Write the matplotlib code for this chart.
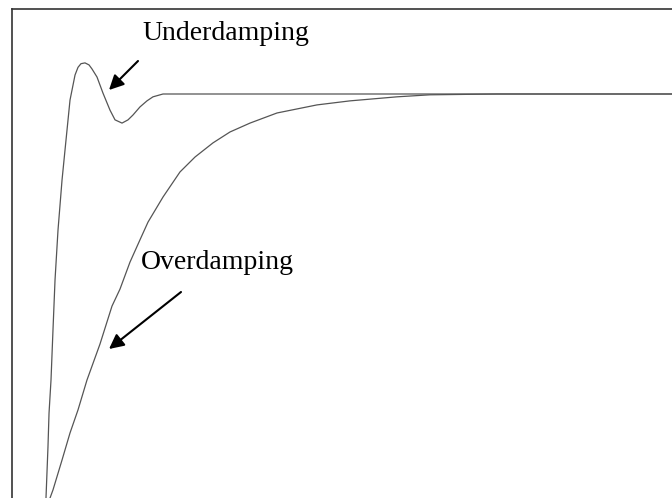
import matplotlib
matplotlib.use("Agg")
from matplotlib import pyplot as plt

plt.rcParams['font.family'] = ['Liberation Serif', 'DejaVu Serif']

# step responses (time, normalised output)
t_under = [0.515, 0.545, 0.561, 0.591, 0.621, 0.652, 0.697, 0.758, 0.803, 0.879,
           0.955, 1.000, 1.045, 1.106, 1.167, 1.212, 1.288, 1.379, 1.485, 1.561,
           1.667, 1.758, 1.833, 1.939, 2.045, 2.136, 2.288, 2.848, 10.0]
y_under = [0.0, 0.126, 0.210, 0.292, 0.416, 0.540, 0.663, 0.787, 0.861, 0.985,
           1.047, 1.066, 1.075, 1.077, 1.072, 1.062, 1.042, 1.002, 0.960, 0.936,
           0.928, 0.936, 0.948, 0.968, 0.983, 0.993, 1.0, 1.0, 1.0]

t_over = [0.576, 0.621, 0.758, 0.879, 1.0, 1.136, 1.333, 1.515, 1.636, 1.788,
          1.939, 2.061, 2.288, 2.545, 2.773, 3.045, 3.303, 3.606, 4.015, 4.621,
          5.121, 5.833, 6.333, 7.348, 10.0]
y_over = [0.0, 0.020, 0.094, 0.161, 0.218, 0.292, 0.381, 0.475, 0.517, 0.584,
          0.639, 0.683, 0.745, 0.807, 0.844, 0.879, 0.906, 0.928, 0.953, 0.973,
          0.983, 0.993, 0.998, 1.0, 1.0]

fig = plt.figure(figsize=(6.72, 4.98), dpi=100)
ax = fig.add_axes([12 / 672, 0, 660 / 672, 489 / 498])

ax.plot(t_under, y_under, color='#555555', lw=0.9)
ax.plot(t_over, y_over, color='#555555', lw=0.9)

ax.set_xlim(0, 10)
ax.set_ylim(0, 489 / 404)
ax.set_xticks([])
ax.set_yticks([])
for side in ['right', 'bottom']:
    ax.spines[side].set_visible(False)
for side in ['left', 'top']:
    ax.spines[side].set_color('#333333')
    ax.spines[side].set_linewidth(1.2)

arrow = dict(arrowstyle='-|>', color='black', lw=1.5, mutation_scale=22,
             shrinkA=0, shrinkB=0)
ax.annotate('', xy=(109, 408), xytext=(138, 437), xycoords='figure pixels',
            textcoords='figure pixels', arrowprops=arrow)
ax.annotate('', xy=(109, 149), xytext=(181, 206), xycoords='figure pixels',
            textcoords='figure pixels', arrowprops=arrow)

ax.annotate('Underdamping', xy=(142, 458), xycoords='figure pixels',
            fontsize=20, va='baseline', ha='left')
ax.annotate('Overdamping', xy=(140.5, 229), xycoords='figure pixels',
            fontsize=20, va='baseline', ha='left')

plt.savefig('out.png', dpi=100)
